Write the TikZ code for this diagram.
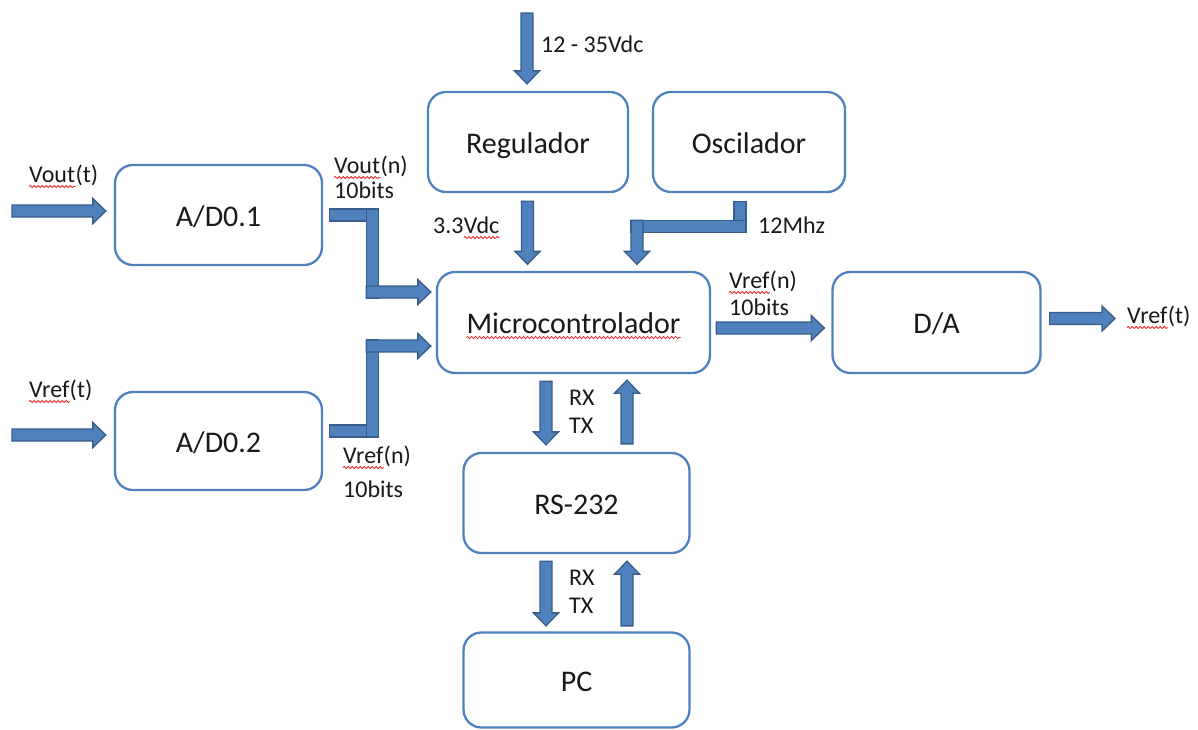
\documentclass[tikz,border=0pt]{standalone}
\usepackage{fontspec}
\setmainfont{Carlito}
\usetikzlibrary{calc,decorations.pathmorphing}

\definecolor{boxline}{RGB}{79,129,189}
\definecolor{arrowfill}{RGB}{79,129,189}
\definecolor{arrowedge}{RGB}{56,93,138}
\definecolor{spellred}{RGB}{232,40,40}
\definecolor{ink}{RGB}{25,25,25}

% straight block shaft: from, to, ux, uy, extension back, extension forward
\newcommand\flowshaft[6]{%
  \filldraw[blockarrow]
   ($(#1)+({-(#5)*(#3)-6*(#4)},{-(#5)*(#4)+6*(#3)})$) --
   ($(#2)+({(#6)*(#3)-6*(#4)},{(#6)*(#4)+6*(#3)})$) --
   ($(#2)+({(#6)*(#3)+6*(#4)},{(#6)*(#4)-6*(#3)})$) --
   ($(#1)+({-(#5)*(#3)+6*(#4)},{-(#5)*(#4)-6*(#3)})$) -- cycle;}

% block arrow with head: from, to, ux, uy, extension back
\newcommand\flowarrow[5]{%
  \filldraw[blockarrow]
   ($(#1)+({-(#5)*(#3)-6*(#4)},{-(#5)*(#4)+6*(#3)})$) --
   ($(#2)+({-13*(#3)-6*(#4)},{-13*(#4)+6*(#3)})$) --
   ($(#2)+({-13*(#3)-12.5*(#4)},{-13*(#4)+12.5*(#3)})$) --
   (#2) --
   ($(#2)+({-13*(#3)+12.5*(#4)},{-13*(#4)-12.5*(#3)})$) --
   ($(#2)+({-13*(#3)+6*(#4)},{-13*(#4)-6*(#3)})$) --
   ($(#1)+({-(#5)*(#3)+6*(#4)},{-(#5)*(#4)-6*(#3)})$) -- cycle;}

% red wavy mark under a named text node
\newcommand\spellmark[1]{%
  \draw[spellline] ($(#1.base west)+(0,4.5)$) -- ($(#1.base east)+(0,4.5)$);}

% label whose first word carries the wavy mark: name, position, word, rest
\newcommand\markedlabel[4]{%
  \node[lbl] (#1) at (#2) {#3};
  \node[lbl] (#1r) at (#1.base east) {#4};
  \spellmark{#1}}

\begin{document}
\begin{tikzpicture}[x=1pt,y=-1pt,
  blk/.style={draw=boxline, line width=2.3pt, rounded corners=18pt, inner sep=0pt},
  blktext/.style={inner sep=0pt, anchor=base, text=ink, font=\fontsize{30}{36}\selectfont},
  lbl/.style={inner sep=0pt, anchor=base west, text=ink,
    font=\fontsize{24}{28}\selectfont},
  spellline/.style={draw=spellred, line width=0.8pt,
    decorate, decoration={snake, amplitude=1.1pt, segment length=4pt}},
  blockarrow/.style={fill=arrowfill, draw=arrowedge, line width=1.3pt, line join=miter}]
\useasboundingbox (0,0) rectangle (1198,729);

% blocks
\node[blk, minimum width=207pt, minimum height=100pt] (ad1) at (218.5,215) {};
\node[blk, minimum width=207pt, minimum height=98pt]  (ad2) at (218.5,441) {};
\node[blk, minimum width=200pt, minimum height=100pt] (reg) at (528,142) {};
\node[blk, minimum width=192pt, minimum height=100pt] (osc) at (749,142) {};
\node[blk, minimum width=273pt, minimum height=101pt] (mc)  at (573.5,322.5) {};
\node[blk, minimum width=208pt, minimum height=101pt] (da)  at (936.5,322.5) {};
\node[blk, minimum width=226pt, minimum height=100pt] (rs)  at (576.5,503) {};
\node[blk, minimum width=226pt, minimum height=95pt]  (pc)  at (576.5,680) {};

% block titles, set on a common baseline offset
\node[blktext] (ad1t) at ($(ad1.center)+(0,11)$) {A/D0.1};
\node[blktext] (ad2t) at ($(ad2.center)+(0,11)$) {A/D0.2};
\node[blktext] (regt) at ($(reg.center)+(0,11)$) {Regulador};
\node[blktext] (osct) at ($(osc.center)+(0,11)$) {Oscilador};
\node[blktext] (mct)  at ($(mc.center)+(0,10.5)$) {Microcontrolador};
\node[blktext] (dat)  at ($(da.center)+(0,11)$) {D/A};
\node[blktext] (rst)  at ($(rs.center)+(0,11)$) {RS-232};
\node[blktext] (pct)  at ($(pc.center)+(0,11)$) {PC};
\spellmark{mct}

% connector end points
\coordinate (voutin) at (12,211);
\coordinate (vrefin) at (12,435);
\coordinate (supin)  at (527,13);
\coordinate (vrefout) at (1115,318.5);
\coordinate (a1t) at ($(ad1.west)+(-8,-4)$);
\coordinate (a2t) at ($(ad2.west)+(-8,-6)$);

\coordinate (e1s) at ($(ad1.east)+(6,0)$);
\coordinate (e1c) at ($(ad1.east)+(49,0)$);
\coordinate (e1t) at ($(mc.west)+(-5,-30.5)$);
\coordinate (e1d) at (e1c |- e1t);

\coordinate (e2s) at ($(ad2.east)+(6,-10)$);
\coordinate (e2c) at ($(ad2.east)+(49,-10)$);
\coordinate (e2t) at ($(mc.west)+(-5,23.5)$);
\coordinate (e2d) at (e2c |- e2t);

\coordinate (rtop) at ($(reg.north)+(-1,-7)$);
\coordinate (rs1) at ($(reg.south)+(-0.5,8)$);
\coordinate (rt1) at ($(mc.north)+(-46,-6.5)$);

\coordinate (o1) at ($(osc.south)+(-9,8)$);
\coordinate (oc) at ($(osc.south)+(-9,33)$);
\coordinate (ot) at ($(mc.north)+(63.5,-6.5)$);
\coordinate (od) at (ot |- oc);

\coordinate (m1) at ($(mc.east)+(5,5.5)$);
\coordinate (dt) at ($(da.west)+(-7,5.5)$);
\coordinate (d1) at ($(da.east)+(8,-4)$);

\coordinate (r1s) at ($(mc.south)+(-27.5,7)$);
\coordinate (r1t) at ($(rs.north)+(-30.5,-7)$);
\coordinate (r2s) at ($(rs.north)+(50.5,-8)$);
\coordinate (r2t) at ($(mc.south)+(53.5,6)$);
\coordinate (p1s) at ($(rs.south)+(-30.5,7)$);
\coordinate (p1t) at ($(pc.north)+(-30.5,-5.5)$);
\coordinate (p2s) at ($(pc.north)+(50.5,-5.5)$);
\coordinate (p2t) at ($(rs.south)+(50.5,7)$);

% inputs
\flowarrow{voutin}{a1t}{1}{0}{0}
\flowarrow{vrefin}{a2t}{1}{0}{0}

% A/D0.1 -> microcontroller
\flowshaft{e1s}{e1c}{1}{0}{0}{6}
\flowshaft{e1c}{e1d}{0}{1}{6}{6}
\flowarrow{e1d}{e1t}{1}{0}{6}

% A/D0.2 -> microcontroller
\flowshaft{e2s}{e2c}{1}{0}{0}{6}
\flowshaft{e2c}{e2d}{0}{-1}{6}{6}
\flowarrow{e2d}{e2t}{1}{0}{6}

% supply and regulator
\flowarrow{supin}{rtop}{0}{1}{0}
\flowarrow{rs1}{rt1}{0}{1}{0}

% oscillator -> microcontroller
\flowshaft{o1}{oc}{0}{1}{0}{6}
\flowshaft{oc}{od}{-1}{0}{6}{6}
\flowarrow{od}{ot}{0}{1}{6}

% microcontroller -> D/A -> output
\flowarrow{m1}{dt}{1}{0}{0}
\flowarrow{d1}{vrefout}{1}{0}{0}

% serial links
\flowarrow{r1s}{r1t}{0}{1}{0}
\flowarrow{r2s}{r2t}{0}{-1}{0}
\flowarrow{p1s}{p1t}{0}{1}{0}
\flowarrow{p2s}{p2t}{0}{-1}{0}

% labels
\markedlabel{l1}{29,182}{Vout}{(t)}
\markedlabel{l2}{334,173}{Vout}{(n)}
\node[lbl] (l3)  at (334,198)  {10bits};
\node[lbl] (l4)  at (433,233)  {3.3};
\node[lbl] (l4w) at (l4.base east) {Vdc};
\spellmark{l4w}
\node[lbl] (l5)  at (541,52)   {12 - 35Vdc};
\node[lbl] (l6)  at (758,233)  {12Mhz};
\markedlabel{l7}{729,288}{Vref}{(n)}
\node[lbl] (l8)  at (729,315)  {10bits};
\markedlabel{l9}{1127,323}{Vref}{(t)}
\markedlabel{l10}{343,463}{Vref}{(n)}
\node[lbl] (l11) at (343,497)  {10bits};
\markedlabel{l12}{29,397}{Vref}{(t)}
\node[lbl] (l13) at (569,405)  {RX};
\node[lbl] (l14) at (569,433)  {TX};
\node[lbl] (l15) at (569,585)  {RX};
\node[lbl] (l16) at (569,613)  {TX};
\end{tikzpicture}
\end{document}
